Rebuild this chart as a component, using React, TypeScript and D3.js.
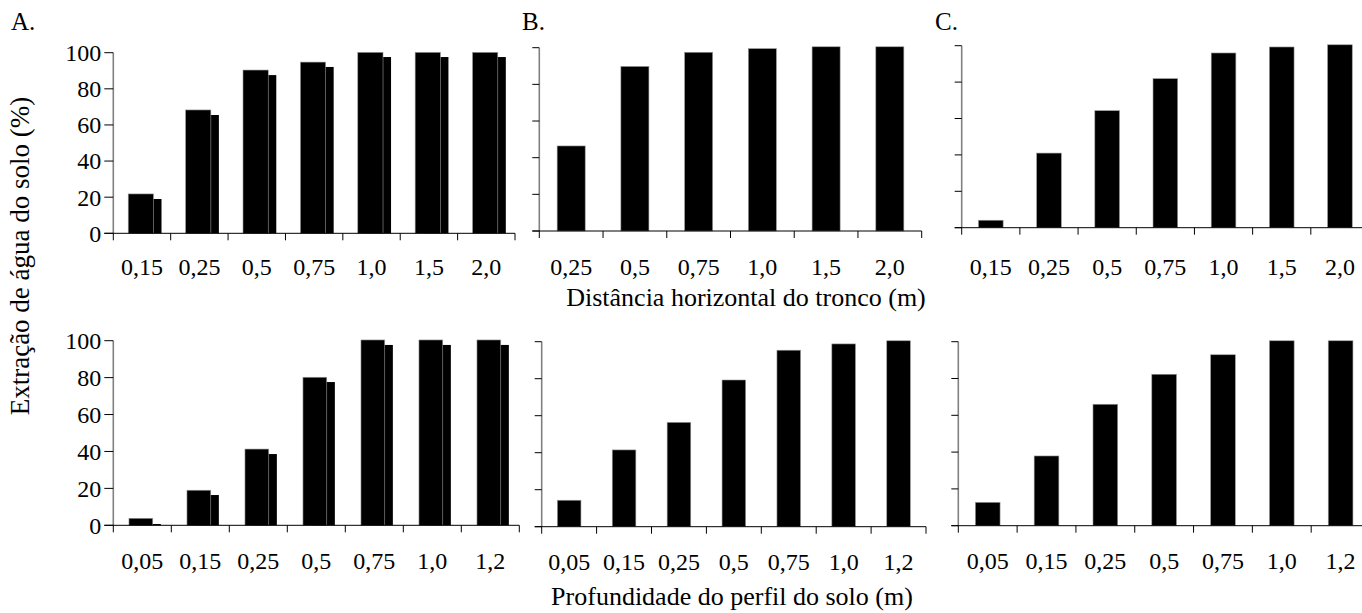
import * as d3 from 'd3'

const topCatsA = ['0,15', '0,25', '0,5', '0,75', '1,0', '1,5', '2,0']
const topValsA = [21.8, 68.3, 90.4, 94.8, 100.2, 100.2, 100.2]
const topShadowA = [19.0, 65.5, 87.6, 92.1, 97.6, 97.6, 97.6]
const topCatsB = ['0,25', '0,5', '0,75', '1,0', '1,5', '2,0']
const topValsB = [46.4, 89.8, 97.5, 99.5, 100.5, 100.5]
const topCatsC = ['0,15', '0,25', '0,5', '0,75', '1,0', '1,5', '2,0']
const topValsC = [4.1, 41.0, 64.3, 81.9, 96.0, 99.3, 100.5]

const bottomCats = ['0,05', '0,15', '0,25', '0,5', '0,75', '1,0', '1,2']
const bottomValsA = [3.8, 19.0, 41.3, 80.2, 100.4, 100.4, 100.4]
const bottomShadowA = [0.7, 16.4, 38.6, 77.6, 97.7, 97.7, 97.7]
const bottomValsB = [14.3, 41.5, 56.4, 79.3, 95.4, 98.8, 100.5]
const bottomValsC = [12.7, 37.9, 66.0, 82.3, 92.9, 100.5, 100.5]

const yTicks = [0, 20, 40, 60, 80, 100]

const FONT = '"Liberation Serif", "Times New Roman", serif'
const W = 1362
const H = 613

interface PanelProps {
  cats: string[]
  vals: number[]
  shadow?: number[]
  x0: number
  x1: number
  y0: number
  y100: number
  barW: number
  barOff?: number
  yLabels?: boolean
  yTickLen: number
  labelDy: number
}

const Panel = ({ cats, vals, shadow, x0, x1, y0, y100, barW, barOff, yLabels, yTickLen, labelDy }: PanelProps) => {
  const x = d3.scaleBand<string>().domain(cats).range([x0, x1]).padding(0)
  const y = d3.scaleLinear().domain([0, 100]).range([y0, y100])
  const bw = x.bandwidth()
  const off = barOff ?? (1 - barW) / 2
  const bounds = cats.map(c => x(c) as number).concat([x1])
  return (
    <g>
      {shadow && shadow.map((v, i) => (
        <rect key={'s' + i} x={(x(cats[i]) as number) + bw * (off + 0.14)} width={bw * barW}
          y={y(v)} height={y0 - y(v)} fill="#000" />
      ))}
      {vals.map((v, i) => (
        <rect key={'b' + i} x={(x(cats[i]) as number) + bw * off} width={bw * barW}
          y={y(v)} height={y0 - y(v)} fill="#000" stroke="#9a9a9a" strokeWidth={0.6} />
      ))}
      <line x1={x0} x2={x0} y1={y0} y2={y(100)} stroke="#808080" strokeWidth={1.6} />
      {yTicks.map(t => (
        <g key={t}>
          <line x1={x0 - yTickLen} x2={x0} y1={y(t)} y2={y(t)} stroke="#000" />
          {yLabels && (
            <text x={x0 - 12} y={y(t)} dy="0.35em" textAnchor="end" fontSize={24} fontFamily={FONT}>{t}</text>
          )}
        </g>
      ))}
      <line x1={x0 - yTickLen} x2={x1} y1={y0} y2={y0} stroke="#000" />
      {bounds.map((b, i) => (
        <line key={'t' + i} x1={b} x2={b} y1={y0} y2={y0 + 7} stroke="#000" />
      ))}
      {cats.map(c => (
        <text key={c} x={(x(c) as number) + bw / 2} y={y0 + labelDy} textAnchor="middle"
          fontSize={24} fontFamily={FONT}>{c}</text>
      ))}
    </g>
  )
}

export default function App() {
  return (
    <div style={{ position: 'absolute', left: 0, top: 0 }}>
      <svg width={W} height={H} style={{ display: 'block', background: '#fff' }}>
        <text x={11} y={30} fontSize={25} fontFamily={FONT}>A.</text>
        <text x={522} y={30} fontSize={25} fontFamily={FONT}>B.</text>
        <text x={935} y={30} fontSize={25} fontFamily={FONT}>C.</text>

        <Panel cats={topCatsA} vals={topValsA} shadow={topShadowA} x0={113.3} x1={515} y0={233.3} y100={52.7}
          barW={0.44} barOff={0.26} yLabels yTickLen={9} labelDy={42} />
        <Panel cats={topCatsB} vals={topValsB} x0={539.3} x1={921.7} y0={231} y100={47.7}
          barW={0.44} yTickLen={7} labelDy={44} />
        <Panel cats={topCatsC} vals={topValsC} x0={961.7} x1={1369} y0={227.7} y100={45.7}
          barW={0.424} yTickLen={7} labelDy={47} />

        <Panel cats={bottomCats} vals={bottomValsA} shadow={bottomShadowA} x0={113.3} x1={519.3} y0={525.3} y100={340.7}
          barW={0.41} barOff={0.27} yLabels yTickLen={9} labelDy={44} />
        <Panel cats={bottomCats} vals={bottomValsB} x0={541.7} x1={926} y0={526.7} y100={341.7}
          barW={0.43} yTickLen={7} labelDy={43} />
        <Panel cats={bottomCats} vals={bottomValsC} x0={958.3} x1={1370} y0={525.7} y100={341.7}
          barW={0.42} yTickLen={7} labelDy={43} />

        <text x={746} y={306} textAnchor="middle" fontSize={26} fontFamily={FONT}>Distância horizontal do tronco (m)</text>
        <text x={732} y={605} textAnchor="middle" fontSize={26} fontFamily={FONT}>Profundidade do perfil do solo (m)</text>
        <text transform="translate(29,256) rotate(-90)" textAnchor="middle" fontSize={27} fontFamily={FONT}>
          Extração de água do solo (%)
        </text>
      </svg>
    </div>
  )
}
